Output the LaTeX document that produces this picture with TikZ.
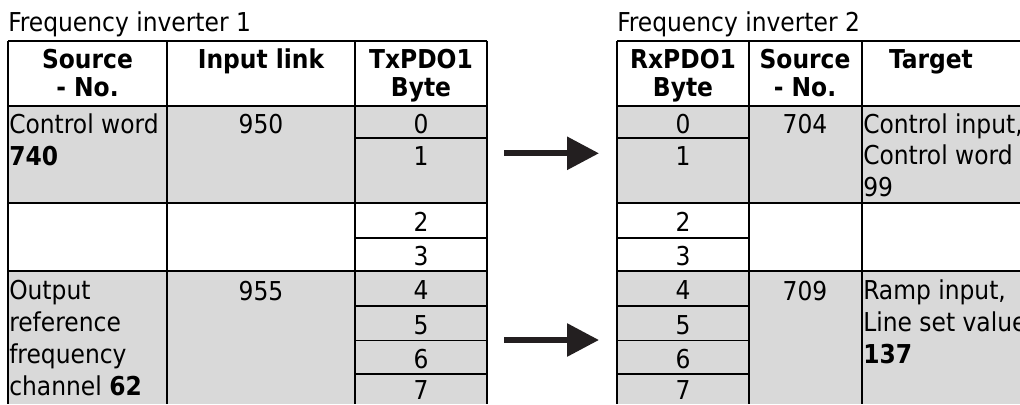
\documentclass[tikz,border=0pt]{standalone}
\usepackage{fontspec}
\setmainfont{DejaVu Sans Condensed}
\usetikzlibrary{arrows.meta}
\definecolor{PDOGray}{HTML}{D9D9D9}
\definecolor{PDOArrow}{HTML}{231F20}
\tikzset{
  gridrule/.style={black,line width=1.5pt},
  gridthin/.style={black,line width=0.9pt},
  celltext/.style={inner sep=0pt,font=\fontsize{19.5}{23.8}\selectfont,align=left},
  headtext/.style={inner sep=0pt,font=\bfseries\fontsize{19.5}{20.8}\selectfont,align=center},
  maparrow/.style={PDOArrow,line width=4.5pt,-{Triangle[length=24pt,width=24pt]}}
}

\begin{document}
\begin{tikzpicture}[x=0.75pt,y=-0.75pt]
\path[use as bounding box] (0,0) rectangle (1020,404);
% shaded rows
\fill[PDOGray] (8,106) rectangle (487,203.3);
\fill[PDOGray] (8,271.3) rectangle (487,404);
\fill[PDOGray] (617,106) rectangle (1020,203.3);
\fill[PDOGray] (617,271.3) rectangle (1020,404);
% inverter 1 grid
\draw[gridrule] (8,40.7) -- (8,404);
\draw[gridrule] (167,40.7) -- (167,404);
\draw[gridrule] (355,40.7) -- (355,404);
\draw[gridrule] (487,40.7) -- (487,404);
\draw[gridrule] (8,40.7) -- (487,40.7);
\draw[gridrule] (8,106) -- (487,106);
\draw[gridrule] (8,203.3) -- (487,203.3);
\draw[gridrule] (8,271.3) -- (487,271.3);
\draw[gridrule] (355,138.3) -- (487,138.3);
\draw[gridrule] (355,237.7) -- (487,237.7);
\draw[gridrule] (355,305.7) -- (487,305.7);
\draw[gridthin] (355,340.3) -- (487,340.3);
\draw[gridrule] (355,374) -- (487,374);
% inverter 2 grid
\draw[gridrule] (617,40.7) -- (617,404);
\draw[gridrule] (749,40.7) -- (749,404);
\draw[gridrule] (862,40.7) -- (862,404);
\draw[gridrule] (617,40.7) -- (1020,40.7);
\draw[gridrule] (617,106) -- (1020,106);
\draw[gridrule] (617,203.3) -- (1020,203.3);
\draw[gridrule] (617,271.3) -- (1020,271.3);
\draw[gridrule] (617,138.3) -- (749,138.3);
\draw[gridrule] (617,237.7) -- (749,237.7);
\draw[gridrule] (617,305.7) -- (749,305.7);
\draw[gridthin] (617,340.3) -- (749,340.3);
\draw[gridrule] (617,374) -- (749,374);
% titles
\node[celltext,anchor=base west] (fi1) at (8,31.7) {Frequency inverter 1};
\node[celltext,anchor=base west] (fi2) at (617,31.7) {Frequency inverter 2};
% headers (base = last line)
\node[headtext,anchor=base] (hsrc1) at (87.5,96) {Source\\- No.};
\node[headtext,anchor=base] (hlink) at (261,68.3) {Input link};
\node[headtext,anchor=base] (htx) at (421,96) {TxPDO1\\Byte};
\node[headtext,anchor=base] (hrx) at (683,96) {RxPDO1\\Byte};
\node[headtext,anchor=base] (hsrc2) at (805,96) {Source\\- No.};
\node[headtext,anchor=base] (htgt) at (931,68.3) {Target};
% inverter 1 cells
\node[celltext,anchor=base west] (src740) at (9,165) {Control word\\\textbf{740}};
\node[celltext,anchor=base] (lnk950) at (261,133.3) {950};
\node[celltext,anchor=base west] (src62) at (9,395.1) {Output\\reference\\frequency\\channel \textbf{62}};
\node[celltext,anchor=base] (lnk955) at (261,300) {955};
\node[celltext,anchor=base] (tx0) at (421,133.3) {0};
\node[celltext,anchor=base] (tx1) at (421,165) {1};
\node[celltext,anchor=base] (tx2) at (421,231.7) {2};
\node[celltext,anchor=base] (tx3) at (421,265.3) {3};
\node[celltext,anchor=base] (tx4) at (421,299.7) {4};
\node[celltext,anchor=base] (tx5) at (421,334.3) {5};
\node[celltext,anchor=base] (tx6) at (421,368) {6};
\node[celltext,anchor=base] (tx7) at (421,399.5) {7};
% inverter 2 cells
\node[celltext,anchor=base] (rx0) at (683,133.3) {0};
\node[celltext,anchor=base] (rx1) at (683,165) {1};
\node[celltext,anchor=base] (rx2) at (683,231.7) {2};
\node[celltext,anchor=base] (rx3) at (683,265.3) {3};
\node[celltext,anchor=base] (rx4) at (683,299.7) {4};
\node[celltext,anchor=base] (rx5) at (683,334.3) {5};
\node[celltext,anchor=base] (rx6) at (683,368) {6};
\node[celltext,anchor=base] (rx7) at (683,399.5) {7};
\node[celltext,anchor=base] (src704) at (805,133.3) {704};
\node[celltext,anchor=base] (src709) at (805,300) {709};
\node[celltext,anchor=base west] (tgt99) at (863,196.7) {Control input,\\Control word\\99};
\node[celltext,anchor=base west] (tgt137) at (863,363.4) {Ramp input,\\Line set value\\\textbf{137}};
% mapping arrows
\coordinate (mapAs) at (504,153.3);
\coordinate (mapAe) at (599,153.3);
\coordinate (mapBs) at (504,340);
\coordinate (mapBe) at (599,340);
\draw[maparrow] (mapAs) -- (mapAe);
\draw[maparrow] (mapBs) -- (mapBe);
\end{tikzpicture}
\end{document}
